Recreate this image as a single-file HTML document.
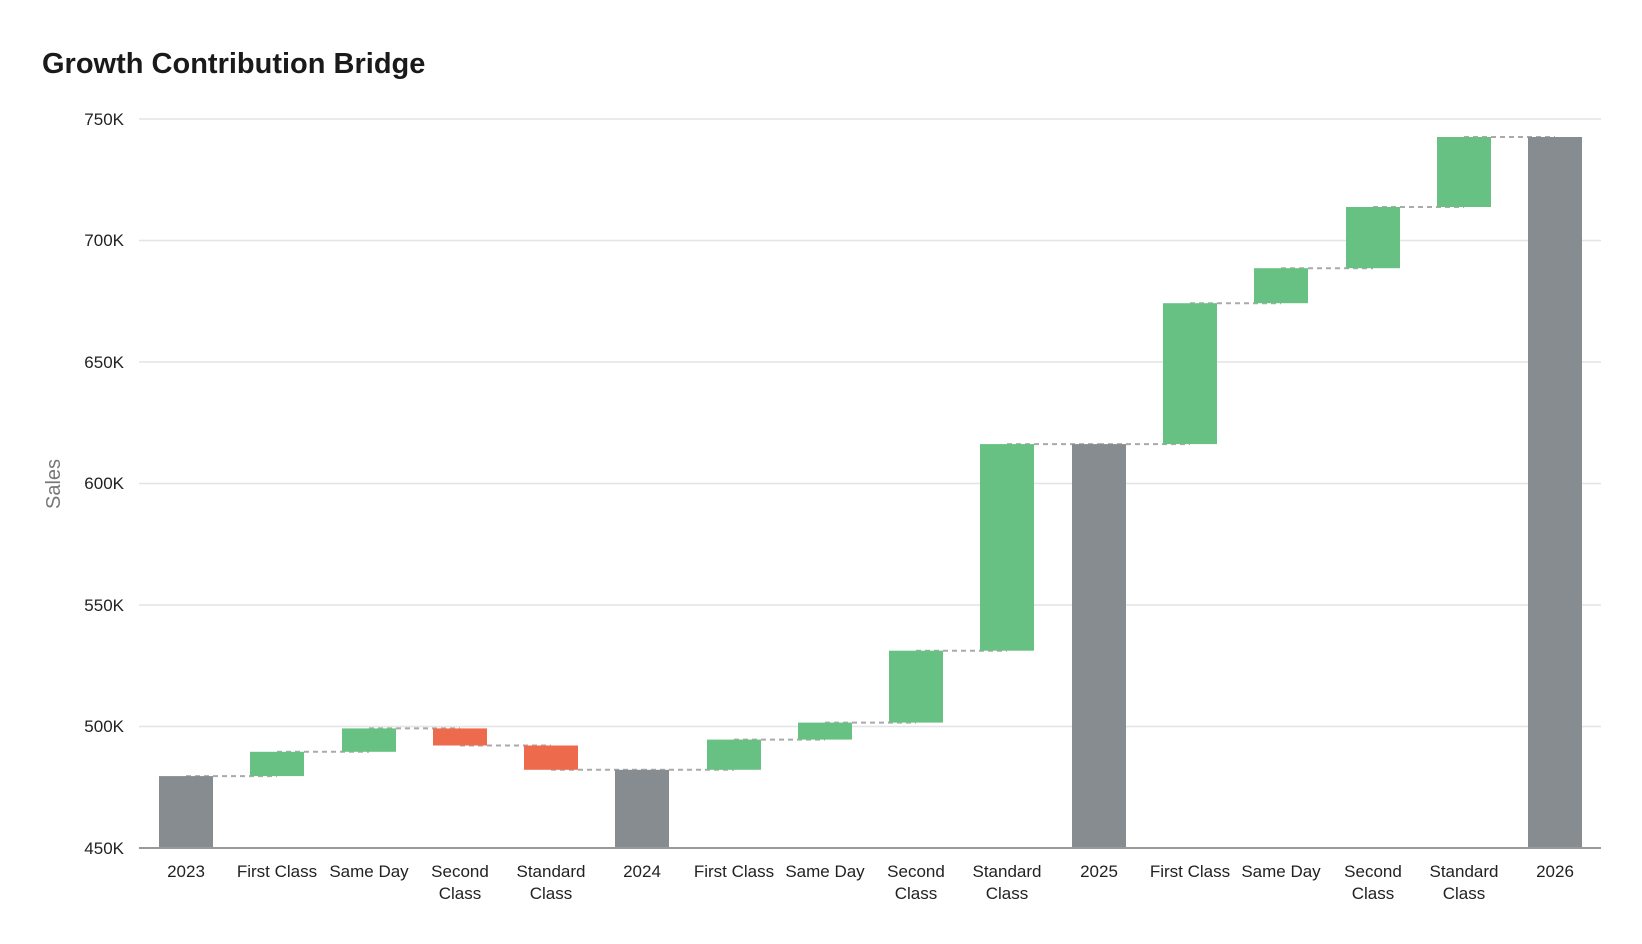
<!DOCTYPE html>
<html><head><meta charset="utf-8"><style>
html,body{margin:0;padding:0;background:#fff}
svg{display:block}
text{font-family:"Liberation Sans",Arial,sans-serif}
</style></head><body>
<svg width="1642" height="944" xmlns="http://www.w3.org/2000/svg">
<text x="42" y="73" font-size="29" font-weight="bold" fill="#1a1a1a">Growth Contribution Bridge</text>
<g stroke="#e2e4e6" stroke-width="1.5">
<line x1="139" x2="1601" y1="119" y2="119"/>
<line x1="139" x2="1601" y1="240.5" y2="240.5"/>
<line x1="139" x2="1601" y1="362" y2="362"/>
<line x1="139" x2="1601" y1="483.5" y2="483.5"/>
<line x1="139" x2="1601" y1="605" y2="605"/>
<line x1="139" x2="1601" y1="726.5" y2="726.5"/>
</g>
<g font-size="17" fill="#222" text-anchor="end">
<text x="124" y="125">750K</text>
<text x="124" y="246">700K</text>
<text x="124" y="368">650K</text>
<text x="124" y="489">600K</text>
<text x="124" y="611">550K</text>
<text x="124" y="732">500K</text>
<text x="124" y="854">450K</text>
</g>
<text transform="translate(60,484) rotate(-90)" font-size="20" fill="#777" text-anchor="middle">Sales</text>
<g stroke="#aaa" stroke-width="2" stroke-dasharray="5,4">
<line x1="186" x2="277" y1="776.1" y2="776.1"/>
<line x1="277" x2="369" y1="751.8" y2="751.8"/>
<line x1="369" x2="460" y1="728.4" y2="728.4"/>
<line x1="460" x2="551" y1="745.5" y2="745.5"/>
<line x1="551" x2="642" y1="769.8" y2="769.8"/>
<line x1="642" x2="734" y1="769.8" y2="769.8"/>
<line x1="734" x2="825" y1="739.6" y2="739.6"/>
<line x1="825" x2="916" y1="722.6" y2="722.6"/>
<line x1="916" x2="1007" y1="650.7" y2="650.7"/>
<line x1="1007" x2="1099" y1="444.1" y2="444.1"/>
<line x1="1099" x2="1190" y1="444.1" y2="444.1"/>
<line x1="1190" x2="1281" y1="303.2" y2="303.2"/>
<line x1="1281" x2="1373" y1="268.2" y2="268.2"/>
<line x1="1373" x2="1464" y1="207" y2="207"/>
<line x1="1464" x2="1555" y1="137" y2="137"/>
</g>
<rect x="159" y="776.1" width="54" height="71.9" fill="#878c90"/>
<rect x="250" y="751.8" width="54" height="24.3" fill="#67c182"/>
<rect x="342" y="728.4" width="54" height="23.4" fill="#67c182"/>
<rect x="433" y="728.4" width="54" height="17.1" fill="#ee6a4c"/>
<rect x="524" y="745.5" width="54" height="24.3" fill="#ee6a4c"/>
<rect x="615" y="769.8" width="54" height="78.2" fill="#878c90"/>
<rect x="707" y="739.6" width="54" height="30.2" fill="#67c182"/>
<rect x="798" y="722.6" width="54" height="17" fill="#67c182"/>
<rect x="889" y="650.7" width="54" height="71.9" fill="#67c182"/>
<rect x="980" y="444.1" width="54" height="206.6" fill="#67c182"/>
<rect x="1072" y="444.1" width="54" height="403.9" fill="#878c90"/>
<rect x="1163" y="303.2" width="54" height="140.9" fill="#67c182"/>
<rect x="1254" y="268.2" width="54" height="35" fill="#67c182"/>
<rect x="1346" y="207" width="54" height="61.2" fill="#67c182"/>
<rect x="1437" y="137" width="54" height="70" fill="#67c182"/>
<rect x="1528" y="137" width="54" height="711" fill="#878c90"/>
<line x1="139" x2="1601" y1="848" y2="848" stroke="#999" stroke-width="2"/>
<g font-size="17" fill="#222" text-anchor="middle">
<text x="186" y="877">2023</text>
<text x="277" y="877">First Class</text>
<text x="369" y="877">Same Day</text>
<text x="460" y="877">Second</text><text x="460" y="899">Class</text>
<text x="551" y="877">Standard</text><text x="551" y="899">Class</text>
<text x="642" y="877">2024</text>
<text x="734" y="877">First Class</text>
<text x="825" y="877">Same Day</text>
<text x="916" y="877">Second</text><text x="916" y="899">Class</text>
<text x="1007" y="877">Standard</text><text x="1007" y="899">Class</text>
<text x="1099" y="877">2025</text>
<text x="1190" y="877">First Class</text>
<text x="1281" y="877">Same Day</text>
<text x="1373" y="877">Second</text><text x="1373" y="899">Class</text>
<text x="1464" y="877">Standard</text><text x="1464" y="899">Class</text>
<text x="1555" y="877">2026</text>
</g>
</svg>
</body></html>
